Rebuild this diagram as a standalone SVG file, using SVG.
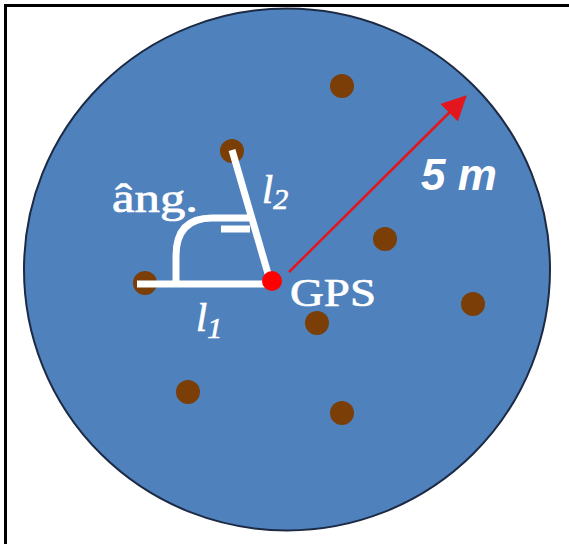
<svg xmlns="http://www.w3.org/2000/svg" width="569" height="544" viewBox="0 0 569 544">
<style>
.dot{fill:#7a3e06}
.wl{stroke:#fff;stroke-width:7;fill:none;stroke-linejoin:round}
.serif{font-family:"Liberation Serif","Times New Roman",serif;fill:#fff;stroke:#fff;stroke-width:0.7}
</style>
<defs>
<marker id="ahb" viewBox="0 0 10 10" refX="9" refY="5" markerWidth="10" markerHeight="10" orient="auto">
<path d="M0,0 L10,5 L0,10 Z" fill="#e3161e"/>
</marker>
</defs>
<rect width="569" height="544" fill="#fff"/>
<path d="M5.5,544 V5.5 H569" fill="none" stroke="#000" stroke-width="3"/>
<g id="area">
<ellipse cx="287" cy="269.5" rx="263" ry="261" fill="#4f81bd" stroke="#1c2a44" stroke-width="2"/>
</g>
<g id="trees">
<circle class="dot" cx="342" cy="86" r="12"/>
<circle class="dot" cx="232" cy="151" r="12"/>
<circle class="dot" cx="385" cy="239" r="12"/>
<circle class="dot" cx="145" cy="283" r="12"/>
<circle class="dot" cx="473" cy="304" r="12"/>
<circle class="dot" cx="317" cy="323" r="12"/>
<circle class="dot" cx="188" cy="392" r="12"/>
<circle class="dot" cx="342" cy="413" r="12"/>
</g>
<g id="connectors">
<line x1="289" y1="272" x2="465" y2="97" stroke="#e3161e" stroke-width="2.5" marker-end="url(#ahb)"/>
<path class="wl" d="M137,284 H271 L232,150"/>
<path class="wl" d="M176,284 V256 Q176,218 212,218 H249"/>
<path class="wl" d="M221,229 H250"/>
</g>
<g id="gps">
<circle cx="272" cy="281" r="10" fill="#ff0000"/>
<text class="serif" x="290" y="306" font-size="39" textLength="86" lengthAdjust="spacingAndGlyphs">GPS</text>
</g>
<g id="labels">
<text class="serif" x="112" y="212" font-size="40" textLength="86" lengthAdjust="spacingAndGlyphs">âng.</text>
<text class="serif" x="196" y="331" font-size="40" font-style="italic">l<tspan font-size="30" dy="7">1</tspan></text>
<text class="serif" x="262" y="203" font-size="40" font-style="italic">l<tspan font-size="30" dy="6">2</tspan></text>
<text x="421" y="190" font-family="Liberation Sans,Arial,sans-serif" font-size="44" font-weight="bold" font-style="italic" fill="#fff">5 m</text>
</g>
</svg>
